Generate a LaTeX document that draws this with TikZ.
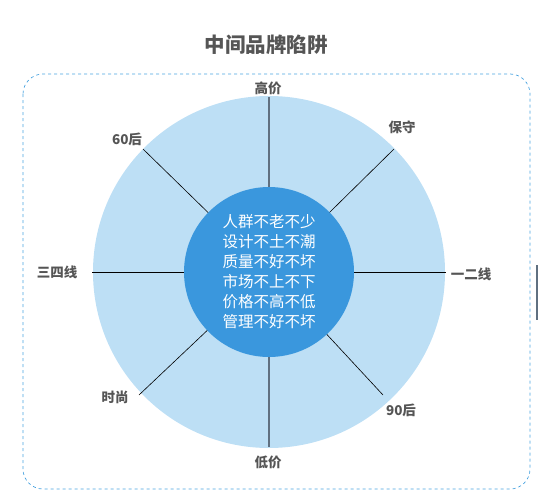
\documentclass[tikz,border=0pt]{standalone}
\usepackage{fontspec}
\newfontfamily\cjk{Noto Sans CJK SC}
\usepackage{tikz}
\usetikzlibrary{positioning}
\definecolor{rimblue}{RGB}{189,223,245}
\definecolor{coreblue}{RGB}{58,151,221}
\definecolor{dashblue}{RGB}{74,163,224}
\definecolor{labelgray}{RGB}{85,85,85}
\definecolor{axisgray}{RGB}{96,112,128}

\begin{document}
\begin{tikzpicture}[
    x=1pt, y=-1pt,
    title/.style={font=\cjk\bfseries\fontsize{20.5}{24}\selectfont, text=labelgray},
    tag/.style={font=\cjk\bfseries\fontsize{13.5}{16}\selectfont, text=labelgray, inner sep=0pt},
    spoke/.style={draw=black, line width=0.6pt},
    axis/.style={draw=axisgray, line width=1.6pt},
    frame/.style={draw=dashblue, dashed, line width=0.7pt, rounded corners=20pt}
]
\useasboundingbox (0,0) rectangle (538,503);

\node [title] (head) at (266,45) {中间品牌陷阱};
\draw [frame] (23,74) rectangle (530,489);

% outer ring
\node [circle, fill=rimblue, minimum size=352pt, inner sep=0pt] (ring) at (269,272) {};

% rim points
\coordinate (n)  at (269,97);
\coordinate (s)  at (269,447);
\coordinate (w)  at (92,272);
\coordinate (e)  at (446,272);
\coordinate (ne) at (394,149);
\coordinate (nw) at (143,149);
\coordinate (se) at (383,395);
\coordinate (sw) at (139,395);

\draw [spoke] (w) -- (e);
\draw [spoke] (nw) -- (ring.center);
\draw [spoke] (ne) -- (ring.center);
\draw [spoke] (sw) -- (ring.center);
\draw [spoke] (se) -- (ring.center);
\draw [axis]  (n) -- (s);

% core
\node [circle, fill=coreblue, minimum size=170pt, inner sep=0pt] (core) at (269,272) {};
\node [font=\cjk\fontsize{15.5}{20}\selectfont, text=white, align=center] (core text) at (269,272)
    {人群不老不少\\设计不土不潮\\质量不好不坏\\市场不上不下\\价格不高不低\\管理不好不坏};

% labels
\node [tag] (high)  at (268,88)  {高价};
\node [tag] (keep)  at (402,127) {保守};
\node [tag] (sixty) at (127,139) {60后};
\node [tag] (low3)  at (57,272)  {三四线};
\node [tag] (top2)  at (471,274) {一二线};
\node [tag] (trend) at (115,397) {时尚};
\node [tag] (ninety) at (401,410) {90后};
\node [tag] (cheap) at (268,462) {低价};

\fill [axisgray] (536,265) rectangle (538,320);
\end{tikzpicture}
\end{document}
